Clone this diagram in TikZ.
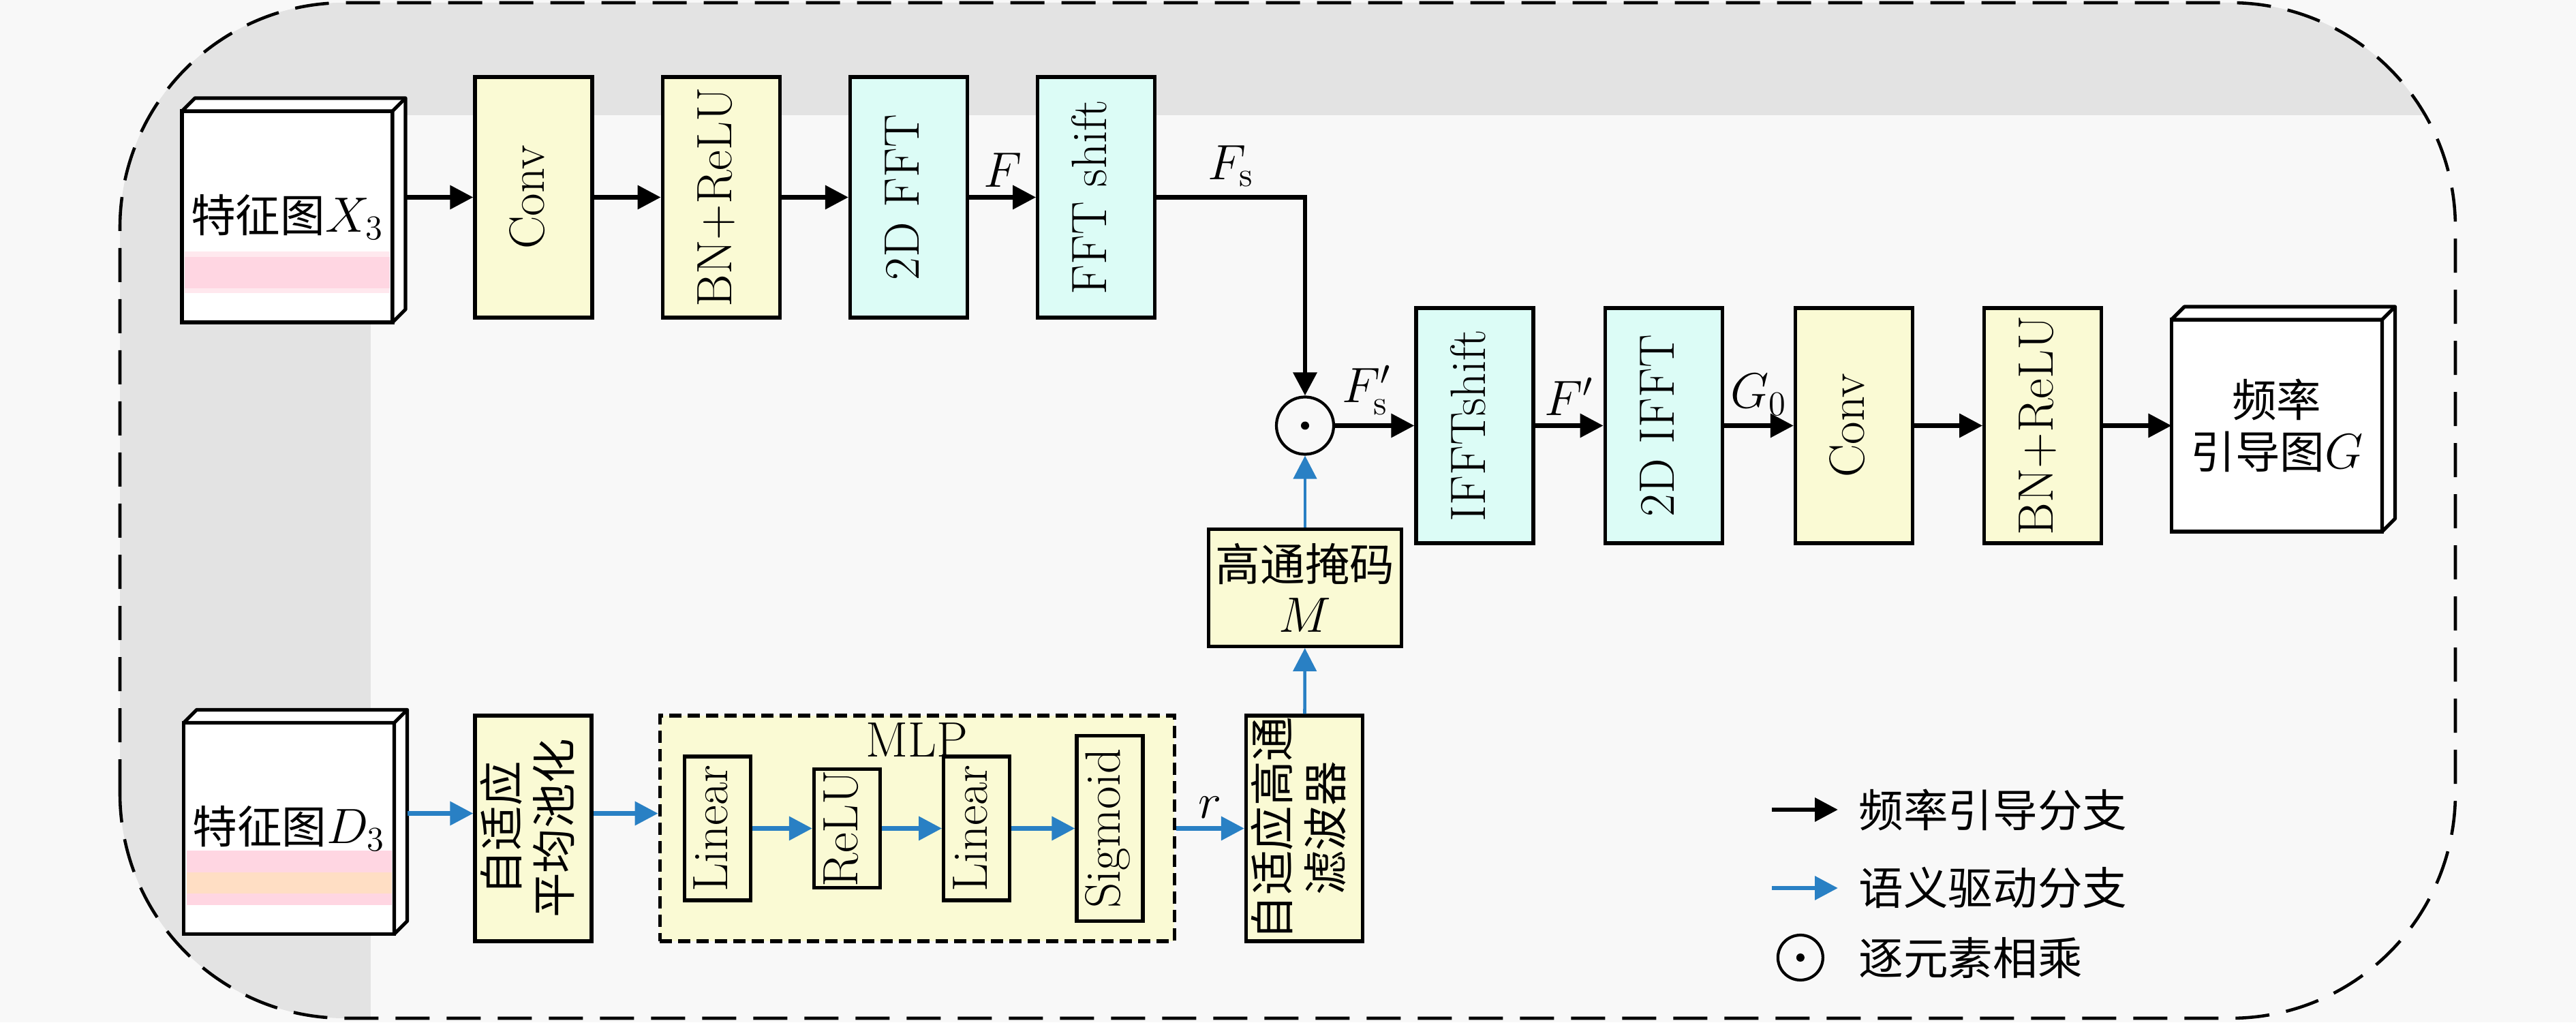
\documentclass[tikz,border=0pt]{standalone}
\usepackage{fontspec}
\newfontfamily\cjk[Scale=0.9]{Noto Sans CJK SC}
\usetikzlibrary{arrows.meta,positioning,calc}

\definecolor{pagebg}{RGB}{248,248,248}
\definecolor{bandgray}{RGB}{227,227,227}
\definecolor{boxyellow}{RGB}{250,250,212}
\definecolor{boxcyan}{RGB}{220,252,246}
\definecolor{semblue}{RGB}{41,128,196}
\definecolor{pinkpale}{RGB}{255,232,238}
\definecolor{pinkband}{RGB}{255,214,226}
\definecolor{peach}{RGB}{255,222,196}

\newcommand\vlab[2][]{\rotatebox{90}{#1\begin{tabular}{@{}c@{}}#2\end{tabular}}}

\begin{document}
\begin{tikzpicture}[
    every node/.style={font=\fontsize{20.74}{21.5}\selectfont},
    block/.style={draw, line width=1.5pt, inner sep=0, minimum width=1.72cm, minimum height=3.5cm},
    yel/.style={block, fill=boxyellow},
    cyn/.style={block, fill=boxcyan},
    mlpin/.style={yel, minimum width=0.97cm},
    fmap/.style={draw, line width=1.5pt, fill=white, inner sep=0, outer sep=0, minimum width=3.09cm, minimum height=3.1cm},
    mulop/.style={draw, circle, line width=1.2pt, fill=pagebg, inner sep=0, minimum size=0.84cm,
        path picture={\fill[black] (path picture bounding box.center) circle (0.06cm);}},
    >={Triangle[length=0.34cm,width=0.34cm]},
    freq/.style={->, line width=1.9pt},
    sem/.style={->, line width=1.9pt, draw=semblue},
    semthin/.style={sem, line width=1.3pt}
]
\useasboundingbox (0,0) rectangle (37.8,15);
% background and outer frame
\fill[pagebg] (0,0) rectangle (37.8,15);
\begin{scope}
  \clip[rounded corners=3.3cm] (1.76,0.06) rectangle (36.03,14.96);
  \fill[bandgray] (0,13.31) rectangle (37.8,15);
  \fill[bandgray] (0,0) rectangle (5.44,15);
\end{scope}
\draw[line width=1.3pt, dash pattern=on 0.5cm off 0.25cm, rounded corners=3.3cm] (1.76,0.06) rectangle (36.03,14.96);

% frequency branch
\node[fmap, path picture={
    \fill[pinkpale] ([shift={(0.04,0.43)}]path picture bounding box.south west) rectangle ([shift={(-0.04,1.04)}]path picture bounding box.south east);
    \fill[pinkband] ([shift={(0.04,0.5)}]path picture bounding box.south west) rectangle ([shift={(-0.04,0.96)}]path picture bounding box.south east);
  }] (x3) at (4.215,11.82) {\cjk 特征图$X_3$};
\node[yel, minimum height=3.53cm] (conv1) at (7.83,12.105) {\vlab{Conv}};
\node[yel, minimum height=3.53cm, right=0.98cm of conv1] (bn1) {\vlab{BN+ReLU}};
\node[cyn, minimum height=3.53cm, right=0.98cm of bn1] (fft) {\vlab{2D FFT}};
\node[cyn, minimum height=3.53cm, right=0.98cm of fft] (fshift) {\vlab{FFT shift}};

\node[mulop] (mul) at (19.15,8.755) {};
\node[cyn, minimum height=3.45cm] (ishift) at (21.64,8.755) {\vlab{IFFTshift}};
\node[cyn, minimum height=3.45cm, right=1cm of ishift] (ifft) {\vlab{2D IFFT}};
\node[yel, minimum height=3.45cm, right=1.02cm of ifft] (conv2) {\vlab{Conv}};
\node[yel, minimum height=3.45cm, right=1cm of conv2] (bn2) {\vlab{BN+ReLU}};
\node[fmap, minimum height=3.11cm, align=center, right=1cm of bn2] (outg) {\cjk 频率\\\cjk 引导图$G$};

\node[yel, minimum width=2.83cm, minimum height=1.72cm, align=center, below=1.05cm of mul] (mask) {\cjk 高通掩码\\$M$};

% semantic branch
\node[fmap, path picture={
    \fill[pinkband] ([shift={(0.04,0.43)}]path picture bounding box.south west) rectangle ([shift={(-0.04,1.23)}]path picture bounding box.south east);
    \fill[peach] ([shift={(0.04,0.6)}]path picture bounding box.south west) rectangle ([shift={(-0.04,0.91)}]path picture bounding box.south east);
  }] (d3) at (4.24,2.845) {\cjk 特征图$D_3$};
\node[yel, minimum width=1.71cm, minimum height=3.31cm] (pool) at (7.825,2.845) {\vlab[\cjk]{自适应\\平均池化}};
\node[yel, dash pattern=on 0.18cm off 0.09cm, minimum width=7.55cm, minimum height=3.31cm, right=0.95cm of pool] (mlp) {};
\node[below=0pt of mlp.north, inner sep=0.13cm] (mlpname) {MLP};
\node[mlpin, minimum height=2.11cm, right=0.36cm of mlp.west] (lin1) {\vlab{Linear}};
\node[mlpin, minimum height=1.74cm, right=0.88cm of lin1] (relu) {\vlab{ReLU}};
\node[mlpin, minimum height=2.11cm, right=0.88cm of relu] (lin2) {\vlab{Linear}};
\node[mlpin, minimum height=2.72cm, right=0.93cm of lin2] (sig) {\vlab{Sigmoid}};
\node[yel, minimum width=1.71cm, minimum height=3.31cm, right=1cm of mlp] (filter) {\vlab[\cjk]{自适应高通\\滤波器}};

% 3D faces of the feature maps
\foreach \fm in {x3,d3,outg} {
  \filldraw[fill=white, line width=1.5pt, line join=round] (\fm.north west) -- ++(0.19,0.19)
    -- ([shift={(0.19,0.19)}]\fm.north east) -- ([shift={(0.19,0.19)}]\fm.south east)
    -- (\fm.south east) -- (\fm.north east) -- cycle;
  \draw[line width=1.5pt] (\fm.north east) -- ++(0.19,0.19);
}

% connectors
\draw[freq] ($(x3.east |- conv1.west)+(0.19,0)$) -- (conv1);
\draw[freq] (conv1) -- (bn1);
\draw[freq] (bn1) -- (fft);
\draw[freq] (fft) -- node[above] {$F$} (fshift);
\draw[freq] (fshift) -| node[pos=0.25, above] {$F_{\mathrm{s}}$} (mul);
\draw[freq] (mul) -- node[pos=0.4, above] {$F'_{\mathrm{s}}$} (ishift);
\draw[freq] (ishift) -- node[above] {$F'$} (ifft);
\draw[freq] (ifft) -- node[above] {$G_0$} (conv2);
\draw[freq] (conv2) -- (bn2);
\draw[freq] (bn2) -- (outg);

\draw[sem] ($(d3.east)+(0.19,0.22)$) -- ($(pool.west)+(0,0.22)$);
\draw[sem] ($(pool.east)+(0,0.22)$) -- ($(mlp.west)+(0,0.22)$);
\draw[sem] (lin1) -- (relu);
\draw[sem] (relu) -- (lin2);
\draw[sem] (lin2) -- (sig);
\draw[sem] (mlp) -- node[above] {$r$} (filter);
\draw[semthin] (filter) -- (mask);
\draw[semthin] (mask) -- (mul);

% legend
\node[anchor=west, inner sep=0] (kfreq) at (27.27,3.12) {\cjk 频率引导分支};
\node[anchor=west, inner sep=0] (ksem) at (27.27,1.97) {\cjk 语义驱动分支};
\node[anchor=west, inner sep=0] (kmul) at (27.27,0.95) {\cjk 逐元素相乘};
\draw[freq] ([xshift=-1.27cm]kfreq.west) -- ([xshift=-0.3cm]kfreq.west);
\draw[sem] ([xshift=-1.27cm]ksem.west) -- ([xshift=-0.3cm]ksem.west);
\node[mulop, minimum size=0.66cm, left=0.5cm of kmul] (kmulop) {};
\end{tikzpicture}
\end{document}
